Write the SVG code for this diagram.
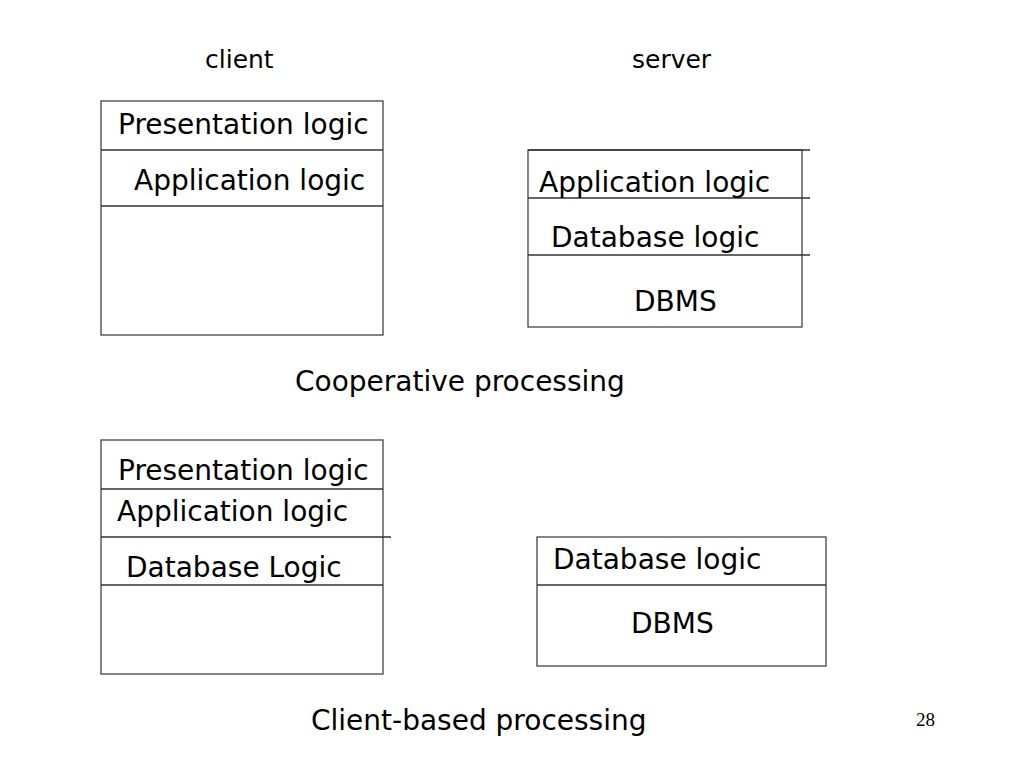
<svg xmlns="http://www.w3.org/2000/svg" width="1024" height="768" viewBox="0 0 1024 768">
<style>
.box{fill:none;stroke:#444;stroke-width:1.3}
.ln{stroke:#333;stroke-width:1.3}
.t{font-family:"DejaVu Sans",Verdana,sans-serif;font-size:28px;fill:#000}
.h{font-family:"DejaVu Sans",Verdana,sans-serif;font-size:25px;fill:#000}
.n{font-family:"Liberation Serif","Times New Roman",serif;font-size:19px;fill:#000}
</style>
<rect width="1024" height="768" fill="#fff"/>
<text class="h" x="205" y="68">client</text>
<text class="h" x="632" y="68">server</text>
<g id="client-coop">
<rect class="box" x="101" y="101" width="282" height="234"/>
<line class="ln" x1="101" y1="150" x2="383" y2="150"/>
<line class="ln" x1="101" y1="206" x2="383" y2="206"/>
<text class="t" x="118" y="134">Presentation logic</text>
<text class="t" x="134" y="190">Application logic</text>
</g>
<g id="server-coop">
<rect class="box" x="528" y="150" width="274" height="177"/>
<line class="ln" x1="528" y1="150" x2="810" y2="150"/>
<line class="ln" x1="528" y1="198" x2="810" y2="198"/>
<line class="ln" x1="528" y1="255" x2="810" y2="255"/>
<text class="t" x="539" y="192">Application logic</text>
<text class="t" x="551" y="247">Database logic</text>
<text class="t" x="634" y="311">DBMS</text>
</g>
<text class="t" x="295" y="391">Cooperative processing</text>
<g id="client-based">
<rect class="box" x="101" y="440" width="282" height="234"/>
<line class="ln" x1="101" y1="489" x2="383" y2="489"/>
<line class="ln" x1="101" y1="537" x2="391" y2="537"/>
<line class="ln" x1="101" y1="585" x2="383" y2="585"/>
<text class="t" x="118" y="480">Presentation logic</text>
<text class="t" x="117" y="521">Application logic</text>
<text class="t" x="126" y="577">Database Logic</text>
</g>
<g id="server-based">
<rect class="box" x="537" y="537" width="289" height="129"/>
<line class="ln" x1="537" y1="585" x2="826" y2="585"/>
<text class="t" x="553" y="569">Database logic</text>
<text class="t" x="631" y="633">DBMS</text>
</g>
<text class="t" x="311" y="730">Client-based processing</text>
<text class="n" x="916" y="726">28</text>
<g id="connectors"></g>
</svg>
